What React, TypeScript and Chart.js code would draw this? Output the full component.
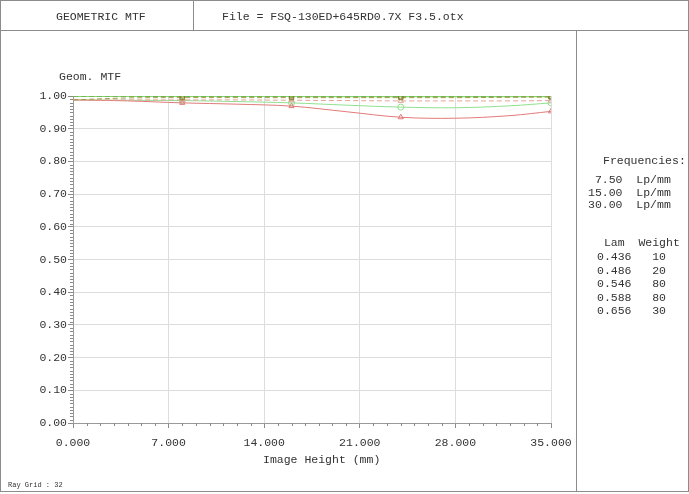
import React, { useEffect, useRef } from "react";
import { Chart, registerables } from "chart.js";

Chart.register(...registerables);

const FONT = "'Liberation Mono', 'DejaVu Sans Mono', monospace";

// Image height sample positions (mm)
const imageHeights = [0, 4, 8, 12, 16, 20, 24, 28, 32, 35];
// indices that carry field markers
const markerIdx = [2, 4, 6, 9];

const s75T = [1.0, 1.0, 1.0, 1.0, 1.0, 0.999, 0.999, 0.999, 0.999, 0.999];
const s75S = [0.988, 0.994, 0.995, 0.995, 0.995, 0.995, 0.995, 0.995, 0.996, 0.997];
const s15T = [0.988, 0.987, 0.986, 0.983, 0.979, 0.972, 0.966, 0.964, 0.970, 0.979];
const s15S = [0.999, 0.999, 0.998, 0.998, 0.998, 0.998, 0.998, 0.998, 0.998, 0.998];
const s30T = [0.988, 0.985, 0.979, 0.975, 0.969, 0.952, 0.935, 0.932, 0.940, 0.953];
const s30S = [0.988, 0.988, 0.988, 0.988, 0.987, 0.986, 0.985, 0.985, 0.985, 0.986];

const xTicks = [0, 7, 14, 21, 28, 35];
const yTicks = [0, 0.1, 0.2, 0.3, 0.4, 0.5, 0.6, 0.7, 0.8, 0.9, 1.0];

const frequencies = [" 7.50  Lp/mm", "15.00  Lp/mm", "30.00  Lp/mm"];
const wavelengths = ["0.436", "0.486", "0.546", "0.588", "0.656"];
const weights = ["10", "20", "80", "80", "30"];

const minorTicks = {
  id: "minorTicks",
  afterDraw(chart: any) {
    const { ctx, chartArea, scales } = chart;
    const xs = scales.x;
    const ys = scales.y;
    ctx.save();
    ctx.strokeStyle = "#8a8a8a";
    ctx.lineWidth = 1;
    ctx.beginPath();
    for (let i = 0; i <= 100; i++) {
      if (i % 10 === 0) continue;
      const y = Math.round(ys.getPixelForValue(i / 100)) + 0.5;
      ctx.moveTo(chartArea.left - 3, y);
      ctx.lineTo(chartArea.left, y);
    }
    for (let i = 0; i <= 35; i++) {
      if (i % 7 === 0) continue;
      const x = Math.round(xs.getPixelForValue(i)) + 0.5;
      ctx.moveTo(x, chartArea.bottom);
      ctx.lineTo(x, chartArea.bottom + 3);
    }
    ctx.stroke();
    ctx.restore();
  },
};

function ds(label: string, vals: number[], color: string, dashed: boolean, style: string, width = 1, markColor?: string) {
  return {
    label,
    data: imageHeights.map((x, i) => ({ x, y: vals[i] })),
    borderColor: color,
    backgroundColor: color,
    borderWidth: width,
    borderDash: dashed ? [5, 3] : [],
    tension: 0.35,
    pointStyle: style,
    pointRadius: imageHeights.map((_, i) => (markerIdx.includes(i) ? 3 : 0)),
    pointBorderWidth: 1,
    pointBackgroundColor: "rgba(0,0,0,0)",
    pointBorderColor: markColor || color,
  };
}

export default function App() {
  const ref = useRef<HTMLCanvasElement>(null);
  useEffect(() => {
    document.body.style.margin = "0";
    const chart = new Chart(ref.current!, {
      type: "line",
      data: {
        datasets: [
          ds("7.50 S", s75S, "#a39a4a", true, "rect", 1, "#8a8030"),
          ds("30.00 S", s30S, "#e3a39c", true, "triangle"),
          ds("30.00 T", s30T, "#e27a7a", false, "triangle"),
          ds("15.00 T", s15T, "#8fe08f", false, "circle"),
          ds("15.00 S", s15S, "#6fb04f", true, "rect", 1, "#5a9a3a"),
          ds("7.50 T", s75T, "#86d672", false, "rect", 2, "#5a9a3a"),
        ],
      },
      options: {
        responsive: false,
        animation: false,
        layout: { padding: { left: 0, top: 96, right: 138, bottom: 0 } },
        plugins: { legend: { display: false }, tooltip: { enabled: false } },
        scales: {
          x: {
            type: "linear",
            min: 0,
            max: 35,
            afterFit: (s: any) => {
              s.height = 71;
            },
            afterBuildTicks: (s: any) => {
              s.ticks = xTicks.map((v) => ({ value: v }));
            },
            ticks: {
              callback: (v: any) => Number(v).toFixed(3),
              font: { family: FONT, size: 11.5 },
              color: "#333",
              padding: 8,
              maxRotation: 0,
              autoSkip: false,
            },
            grid: { color: "#dcdcdc", tickColor: "#8a8a8a", tickLength: 5, drawTicks: true },
            border: { color: "#9a9a9a", width: 1 },
          },
          y: {
            type: "linear",
            min: 0,
            max: 1,
            afterFit: (s: any) => {
              s.width = 73;
            },
            afterBuildTicks: (s: any) => {
              s.ticks = yTicks.map((v) => ({ value: v }));
            },
            ticks: {
              callback: (v: any) => Number(v).toFixed(2),
              font: { family: FONT, size: 11.5 },
              color: "#333",
              padding: 1,
              autoSkip: false,
            },
            grid: { color: "#dcdcdc", tickColor: "#8a8a8a", tickLength: 5 },
            border: { color: "#9a9a9a", width: 1 },
          },
        },
      },
      plugins: [minorTicks],
    } as any);
    return () => chart.destroy();
  }, []);

  const line = "#8c8c8c";
  const txt: React.CSSProperties = {
    position: "absolute",
    whiteSpace: "pre",
    fontFamily: FONT,
    fontSize: 11.5,
    lineHeight: "13px",
    color: "#333",
  };

  return (
    <div style={{ position: "relative", width: 689, height: 494, background: "#fff", overflow: "hidden" }}>
      <canvas ref={ref} width={689} height={494} style={{ position: "absolute", left: 0, top: 0, width: 689, height: 494 }} />
      {/* frame */}
      <div style={{ position: "absolute", left: 0, top: 0, width: 687, height: 490, border: `1px solid ${line}`, pointerEvents: "none" }} />
      <div style={{ position: "absolute", left: 0, top: 30, width: 689, height: 1, background: line }} />
      <div style={{ position: "absolute", left: 193, top: 0, width: 1, height: 30, background: line }} />
      <div style={{ position: "absolute", left: 576, top: 30, width: 1, height: 461, background: line }} />

      <div style={{ ...txt, left: 56, top: 10 }}>GEOMETRIC MTF</div>
      <div style={{ ...txt, left: 222, top: 10 }}>File = FSQ-130ED+645RD0.7X F3.5.otx</div>
      <div style={{ ...txt, left: 59, top: 70 }}>Geom. MTF</div>
      <div style={{ ...txt, left: 263, top: 453 }}>Image Height (mm)</div>

      <div style={{ ...txt, left: 603, top: 154 }}>Frequencies:</div>
      {frequencies.map((f, i) => (
        <div key={f} style={{ ...txt, left: 588, top: 173 + i * 12.5 }}>{f}</div>
      ))}
      <div style={{ ...txt, left: 597, top: 236 }}>{" Lam  Weight"}</div>
      {wavelengths.map((w, i) => (
        <div key={w} style={{ ...txt, left: 597, top: 250 + i * 13.5 }}>{w + "   " + weights[i]}</div>
      ))}
      <div style={{ ...txt, left: 8, top: 481, fontSize: 7, lineHeight: "8px" }}>Ray Grid : 32</div>
    </div>
  );
}
